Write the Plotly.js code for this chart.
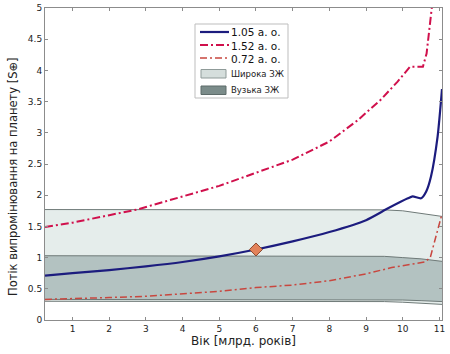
<!DOCTYPE html>
<html><head><meta charset="utf-8">
<script src="https://cdn.plot.ly/plotly-3.0.1.min.js"></script>
<style>html,body{margin:0;padding:0;background:#fff}#c{width:450px;height:354px}</style>
</head><body><div id="c"></div>
<script>
// Habitable zone boundaries
const hzX = [0.25, 1, 2, 3, 4, 5, 6, 7, 8, 9, 9.5, 10, 10.5, 11.07];
const wideUpper = [1.77, 1.77, 1.77, 1.77, 1.77, 1.77, 1.77, 1.77, 1.77, 1.77, 1.765, 1.75, 1.71, 1.66];
const wideLower = [0.30, 0.30, 0.30, 0.30, 0.30, 0.30, 0.30, 0.30, 0.30, 0.30, 0.295, 0.285, 0.27, 0.25];
const narrowUpper = [1.03, 1.03, 1.03, 1.03, 1.03, 1.03, 1.03, 1.03, 1.03, 1.03, 1.02, 1.0, 0.98, 0.94];
const narrowLower = [0.33, 0.33, 0.33, 0.33, 0.33, 0.33, 0.33, 0.33, 0.33, 0.33, 0.325, 0.32, 0.31, 0.295];

// 1.05 AU
const x105 = [0.25, 1, 2, 3, 4, 5, 6, 7, 8, 9, 9.6, 10.14, 10.27, 10.5, 10.64, 10.77, 10.95, 11.07];
const y105 = [0.71, 0.75, 0.80, 0.86, 0.93, 1.02, 1.13, 1.26, 1.41, 1.60, 1.79, 1.95, 1.98, 1.95, 2.06, 2.30, 2.94, 3.70];
// 1.52 AU
const x152 = [0.25, 1, 2, 2.76, 4, 5, 6, 7, 8, 8.77, 9.4, 9.86, 10.2, 10.55, 10.65, 10.77, 10.83];
const y152 = [1.49, 1.56, 1.68, 1.77, 1.98, 2.15, 2.36, 2.57, 2.86, 3.2, 3.53, 3.82, 4.06, 4.06, 4.27, 4.81, 5.2];
// 0.72 AU
const x072 = [0.25, 1, 2, 3, 4, 5, 6, 7, 8, 9, 9.7, 10.6, 10.75, 11.07];
const y072 = [0.33, 0.34, 0.36, 0.38, 0.42, 0.46, 0.52, 0.56, 0.63, 0.74, 0.84, 0.93, 1.0, 1.70];
// present Earth marker
const nowX = [6];
const nowY = [1.13];

const xTicks = [1,2,3,4,5,6,7,8,9,10,11];
const yTicks = [0,0.5,1,1.5,2,2.5,3,3.5,4,4.5,5];

const seriesNames = ['1.05 а. о.', '1.52 а. о.', '0.72 а. о.'];
const zoneNames = ['Широка ЗЖ', 'Вузька ЗЖ'];

const C105 = '#1c1c7e', C152 = '#d0104c', C072 = '#c8473f';
const D152 = '8px,3px,2px,3px', D072 = '7px,3px,2px,3px';
const edge = '#6f7a78';
const traces = [
  {x: hzX, y: wideLower, mode:'lines', line:{color:edge, width:1}, hoverinfo:'skip'},
  {x: hzX, y: wideUpper, mode:'lines', fill:'tonexty', fillcolor:'#e5edeb', line:{color:edge, width:1}, name:zoneNames[0]},
  {x: hzX, y: narrowLower, mode:'lines', line:{color:edge, width:1}, hoverinfo:'skip'},
  {x: hzX, y: narrowUpper, mode:'lines', fill:'tonexty', fillcolor:'#b3c2c1', line:{color:edge, width:1}, name:zoneNames[1]},
  {x: x072, y: y072, mode:'lines', line:{color:C072, width:1.5, dash:D072}, name:seriesNames[2]},
  {x: x152, y: y152, mode:'lines', line:{color:C152, width:2, dash:D152}, name:seriesNames[1]},
  {x: x105, y: y105, mode:'lines', line:{color:C105, width:2.2, shape:'spline', smoothing:0.6}, name:seriesNames[0]},
  {x: nowX, y: nowY, mode:'markers', marker:{symbol:'diamond', size:10, color:'#e2825a', line:{color:'#8a4a30', width:1}}}
];

// custom compact legend (pixel positions in the 450x354 figure)
const L = 45, R = 442, T = 8, B = 320;
const px = v => (v - L) / (R - L);
const py = v => (B - v) / (B - T);
const rowY = [32, 45, 58];
const shapes = [
  {type:'rect', xref:'paper', yref:'paper', x0:px(195), x1:px(288), y0:py(98), y1:py(24), line:{color:'#bdbdbd', width:1}, fillcolor:'#fff', layer:'above'},
  {type:'line', xref:'paper', yref:'paper', x0:px(200), x1:px(229), y0:py(rowY[0]), y1:py(rowY[0]), line:{color:C105, width:2.2}, layer:'above'},
  {type:'line', xref:'paper', yref:'paper', x0:px(200), x1:px(229), y0:py(rowY[1]), y1:py(rowY[1]), line:{color:C152, width:2, dash:D152}, layer:'above'},
  {type:'line', xref:'paper', yref:'paper', x0:px(200), x1:px(229), y0:py(rowY[2]), y1:py(rowY[2]), line:{color:C072, width:1.5, dash:D072}, layer:'above'},
  {type:'rect', xref:'paper', yref:'paper', x0:px(201), x1:px(226), y0:py(78), y1:py(69.5), line:{color:'#8f9b99', width:1}, fillcolor:'#d5dedc', layer:'above'},
  {type:'rect', xref:'paper', yref:'paper', x0:px(201), x1:px(226), y0:py(94.5), y1:py(86), line:{color:'#5d6b69', width:1}, fillcolor:'#7b8c8a', layer:'above'}
];
const legFont = {family:'DejaVu Sans', size:10.5, color:'#111'};
const legFont2 = {family:'DejaVu Sans', size:8.5, color:'#222'};
const annotations = [
  {xref:'paper', yref:'paper', x:px(230), y:py(45), xanchor:'left', yanchor:'middle', align:'left', borderpad:0,
   text:seriesNames.join('<br>'), showarrow:false, font:legFont},
  {xref:'paper', yref:'paper', x:px(230), y:py(73.5), xanchor:'left', yanchor:'middle', borderpad:0, text:zoneNames[0], showarrow:false, font:legFont2},
  {xref:'paper', yref:'paper', x:px(230), y:py(90), xanchor:'left', yanchor:'middle', borderpad:0, text:zoneNames[1], showarrow:false, font:legFont2},
  {xref:'paper', yref:'paper', x:px(13), y:py(177), xanchor:'center', yanchor:'middle', textangle:-90,
   text:'Потік випромінювання на планету [S⊕]', showarrow:false, font:{family:'DejaVu Sans', size:11.5, color:'#222'}}
];

const axisCommon = {
  showgrid:false, zeroline:false, showline:true, linecolor:'#8c8c8c', linewidth:1, mirror:'ticks',
  ticks:'inside', ticklen:3, tickcolor:'#8c8c8c', tickfont:{family:'DejaVu Sans', size:9, color:'#222'}
};
const layout = {
  width:450, height:354,
  margin:{l:L, r:450-R, t:T, b:354-B},
  paper_bgcolor:'#fff', plot_bgcolor:'#fff',
  showlegend:false,
  shapes: shapes, annotations: annotations,
  xaxis: Object.assign({}, axisCommon, {range:[0.25, 11.07], tickvals:xTicks, ticktext:xTicks.map(String),
          title:{text:'Вік [млрд. років]', font:{family:'DejaVu Sans', size:12, color:'#222'}, standoff:2}}),
  yaxis: Object.assign({}, axisCommon, {range:[0, 5], tickvals:yTicks, ticktext:yTicks.map(String)}),
};
Plotly.newPlot('c', traces, layout, {displayModeBar:false, staticPlot:true});
</script></body></html>
